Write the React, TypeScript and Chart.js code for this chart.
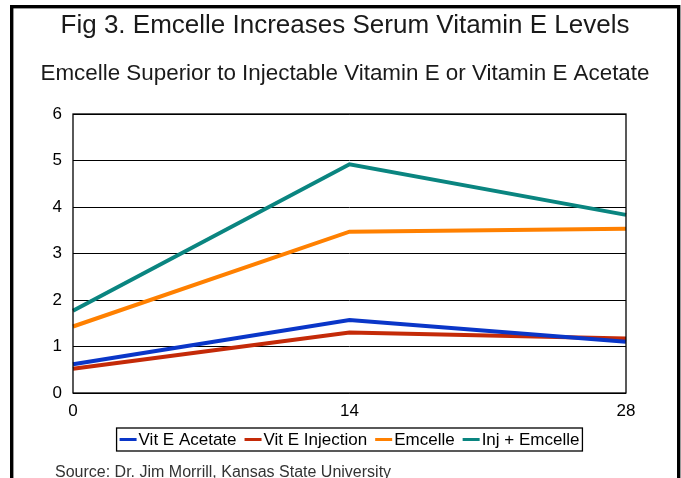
import React, { useEffect, useRef } from "react";
import { Chart, registerables } from "chart.js";

Chart.register(...registerables);

const TITLE = "Fig 3. Emcelle Increases Serum Vitamin E Levels";
const SUBTITLE = "Emcelle Superior to Injectable Vitamin E or Vitamin E Acetate";
const SOURCE = "Source: Dr. Jim Morrill, Kansas State University";

const days = [0, 14, 28];
const seriesNames = ["Vit E Acetate", "Vit E Injection", "Emcelle", "Inj + Emcelle"];
const vitEAcetate = [0.62, 1.57, 1.1];
const vitEInjection = [0.52, 1.3, 1.17];
const emcelle = [1.43, 3.47, 3.53];
const injEmcelle = [1.77, 4.92, 3.83];
const seriesColors = ["#0a36c8", "#c42a08", "#ff8000", "#0a8580"];
const yTicks = [0, 1, 2, 3, 4, 5, 6];

const FONT = '"Liberation Sans", Arial, sans-serif';

const decorPlugin = {
  id: "decor",
  afterDraw(chart: any) {
    const ctx = chart.ctx as CanvasRenderingContext2D;
    const area = chart.chartArea;
    ctx.save();
    // frame
    ctx.strokeStyle = "#000";
    ctx.lineWidth = 3.4;
    ctx.strokeRect(11.7, 6.7, 667, 600);
    // plot border
    ctx.lineWidth = 1.3;
    ctx.strokeRect(area.left, area.top, area.right - area.left, area.bottom - area.top);
    // title
    ctx.fillStyle = "#1a1a1a";
    ctx.textAlign = "center";
    ctx.textBaseline = "middle";
    ctx.font = `26px ${FONT}`;
    ctx.fillText(TITLE, 345, 26);
    ctx.font = `22.4px ${FONT}`;
    ctx.fillText(SUBTITLE, 345, 74);
    // legend
    ctx.font = `17px ${FONT}`;
    const sw = 17, gap = 2, itemGap = 8, padX = 3;
    const widths = seriesNames.map((n) => sw + gap + ctx.measureText(n).width);
    const total = widths.reduce((a, b) => a + b, 0) + itemGap * (widths.length - 1);
    const cx = (area.left + area.right) / 2;
    const boxL = cx - total / 2 - padX;
    const boxT = 428, boxH = 23;
    ctx.lineWidth = 1.3;
    ctx.strokeStyle = "#000";
    ctx.strokeRect(boxL, boxT, total + padX * 2, boxH);
    let x = boxL + padX;
    const cy = boxT + boxH / 2;
    ctx.textAlign = "left";
    ctx.fillStyle = "#000";
    seriesNames.forEach((n, i) => {
      ctx.fillStyle = seriesColors[i];
      ctx.fillRect(x, cy - 1.5, sw, 3);
      ctx.fillStyle = "#000";
      ctx.fillText(n, x + sw + gap, cy + 1);
      x += widths[i] + itemGap;
    });
    // source
    ctx.font = `16px ${FONT}`;
    ctx.fillStyle = "#333";
    ctx.fillText(SOURCE, 55, 473);
    ctx.restore();
  },
};

export default function App() {
  const ref = useRef<HTMLCanvasElement>(null);
  useEffect(() => {
    document.body.style.margin = "0";
    const all = [vitEAcetate, vitEInjection, emcelle, injEmcelle];
    const chart = new Chart(ref.current!, {
      type: "line",
      data: {
        datasets: all.map((vals, i) => ({
          label: seriesNames[i],
          data: days.map((d, j) => ({ x: d, y: vals[j] })),
          borderColor: seriesColors[i],
          backgroundColor: seriesColors[i],
          borderWidth: 4,
          pointRadius: 0,
          tension: 0,
          clip: false as any,
        })),
      },
      options: {
        responsive: false,
        animation: false,
        events: [],
        layout: { padding: { left: 0, top: 114, right: 55, bottom: 0 } },
        plugins: {
          legend: { display: false },
          title: { display: false },
          tooltip: { enabled: false },
        },
        scales: {
          x: {
            type: "linear",
            min: 0,
            max: 28,
            afterBuildTicks: (scale: any) => {
              scale.ticks = days.map((v) => ({ value: v }));
            },
            afterFit: (scale: any) => {
              scale.height = 85;
            },
            ticks: {
              font: { family: FONT, size: 17 },
              color: "#000",
              padding: 8,
              maxRotation: 0,
            },
            grid: { display: false, drawTicks: false },
            border: { display: false },
          },
          y: {
            min: 0,
            max: 6,
            afterBuildTicks: (scale: any) => {
              scale.ticks = yTicks.map((v) => ({ value: v }));
            },
            afterFit: (scale: any) => {
              scale.width = 73;
            },
            ticks: {
              font: { family: FONT, size: 17 },
              color: "#000",
              padding: 11,
            },
            grid: { color: "#000", lineWidth: 1, drawTicks: false },
            border: { display: false },
          },
        },
      },
      plugins: [decorPlugin],
    });
    return () => chart.destroy();
  }, []);
  return (
    <div style={{ position: "fixed", left: 0, top: 0, width: 681, height: 478, background: "#fff" }}>
      <canvas ref={ref} width={681} height={478} />
    </div>
  );
}
